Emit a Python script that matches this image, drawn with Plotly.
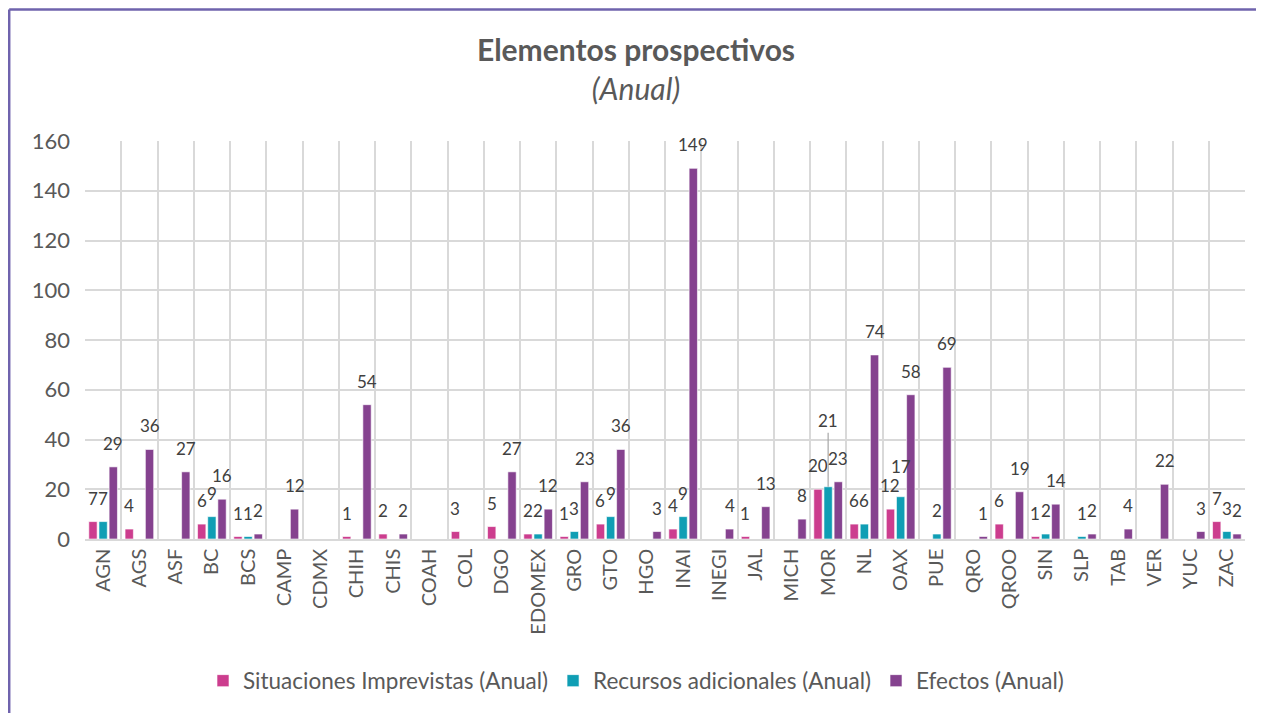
import plotly.graph_objects as go

categories = ["AGN", "AGS", "ASF", "BC", "BCS", "CAMP", "CDMX", "CHIH", "CHIS", "COAH",
              "COL", "DGO", "EDOMEX", "GRO", "GTO", "HGO", "INAI", "INEGI", "JAL", "MICH",
              "MOR", "NL", "OAX", "PUE", "QRO", "QROO", "SIN", "SLP", "TAB", "VER", "YUC", "ZAC"]

situaciones = [7, 4, None, 6, 1, None, None, 1, 2, None,
               3, 5, 2, 1, 6, None, 4, None, 1, None,
               20, 6, 12, None, None, 6, 1, None, None, None, None, 7]
recursos = [7, None, None, 9, 1, None, None, None, None, None,
            None, None, 2, 3, 9, None, 9, None, None, None,
            21, 6, 17, 2, None, None, 2, 1, None, None, None, 3]
efectos = [29, 36, 27, 16, 2, 12, None, 54, 2, None,
           None, 27, 12, 23, 36, 3, 149, 4, 13, 8,
           23, 74, 58, 69, 1, 19, 14, 2, 4, 22, 3, 2]

y_ticks = [0, 20, 40, 60, 80, 100, 120, 140, 160]

series = [
    ("Situaciones Imprevistas (Anual)", situaciones, "#CC3D8E"),
    ("Recursos adicionales (Anual)", recursos, "#0F9EB4"),
    ("Efectos (Anual)", efectos, "#85428F"),
]

FONT = "Lato, 'Open Sans', sans-serif"
LABEL_FONT = dict(family=FONT, size=17, color="#404040")
callout_cat = "MOR"
raised_cat = "OAX"

W, H = 1256, 705
L, R, T, B = 77, 19, 133, 174
PW, PH = W - L - R, H - T - B
BARGAP = 0.16
slot = PW / len(categories) * (1 - BARGAP) / len(series)

fig = go.Figure()
for si, (name, vals, color) in enumerate(series):
    fig.add_trace(go.Bar(
        name=name, x=categories, y=vals, marker_color=color,
        marker_line=dict(color="rgba(255,255,255,0.6)", width=1),
    ))
    for c, v in zip(categories, vals):
        if v is None:
            continue
        xs = (si - 1) * slot
        if si == 1 and c == callout_cat:
            fig.add_annotation(
                x=c, y=v, xshift=xs, text=str(v), showarrow=True, arrowhead=0,
                arrowwidth=1.2, arrowcolor="#A6A6A6", ax=0, ay=-54, yanchor="bottom",
                font=LABEL_FONT,
            )
            continue
        ys = 11 + (7 if (si == 1 and c == raised_cat) else 0)
        fig.add_annotation(
            x=c, y=v, xshift=xs, yshift=ys, text=str(v), showarrow=False,
            yanchor="bottom", xanchor="center", font=LABEL_FONT,
        )

fig.update_layout(
    width=W, height=H,
    margin=dict(l=L, r=R, t=T, b=B),
    paper_bgcolor="white", plot_bgcolor="white",
    barmode="group", bargap=BARGAP, bargroupgap=0.18,
    title=dict(
        text="<b>Elementos prospectivos</b><br><i>(Anual)</i>",
        x=0.5, xanchor="center", xref="container",
        y=1 - 53 / H, yanchor="top", yref="container",
        font=dict(family=FONT, size=30, color="#595959"),
    ),
    legend=dict(
        orientation="h", x=0.5, xanchor="center", xref="container",
        y=1 - 673 / H, yanchor="middle", yref="container",
        font=dict(family=FONT, size=22.5, color="#595959"),
        traceorder="normal",
    ),
    showlegend=True,
)
fig.update_xaxes(
    type="category", tickson="boundaries", showgrid=True, gridcolor="#D9D9D9", gridwidth=1.5,
    tickangle=-90, ticks="", showline=True, linecolor="#D9D9D9", linewidth=1.5,
    mirror=False, tickfont=dict(family=FONT, size=20, color="#595959"),
)
fig.update_yaxes(
    range=[0, 160], tickvals=y_ticks, showgrid=True, gridcolor="#D9D9D9", gridwidth=1.5,
    zeroline=False, showline=False, ticks="", ticklabelstandoff=14,
    tickfont=dict(family=FONT, size=22, color="#595959"),
)

# chart frame (purple border like source)
fx = (1.2 - L) / PW
fy = (PH + T - 1.5) / PH
fig.add_shape(type="line", xref="paper", yref="paper",
              x0=fx, x1=1.05, y0=fy, y1=fy,
              line=dict(color="#6F63AD", width=2.5))
fig.add_shape(type="line", xref="paper", yref="paper",
              x0=fx, x1=fx, y0=fy, y1=-0.5,
              line=dict(color="#6F63AD", width=2.5))

fig.write_html("out.html")
